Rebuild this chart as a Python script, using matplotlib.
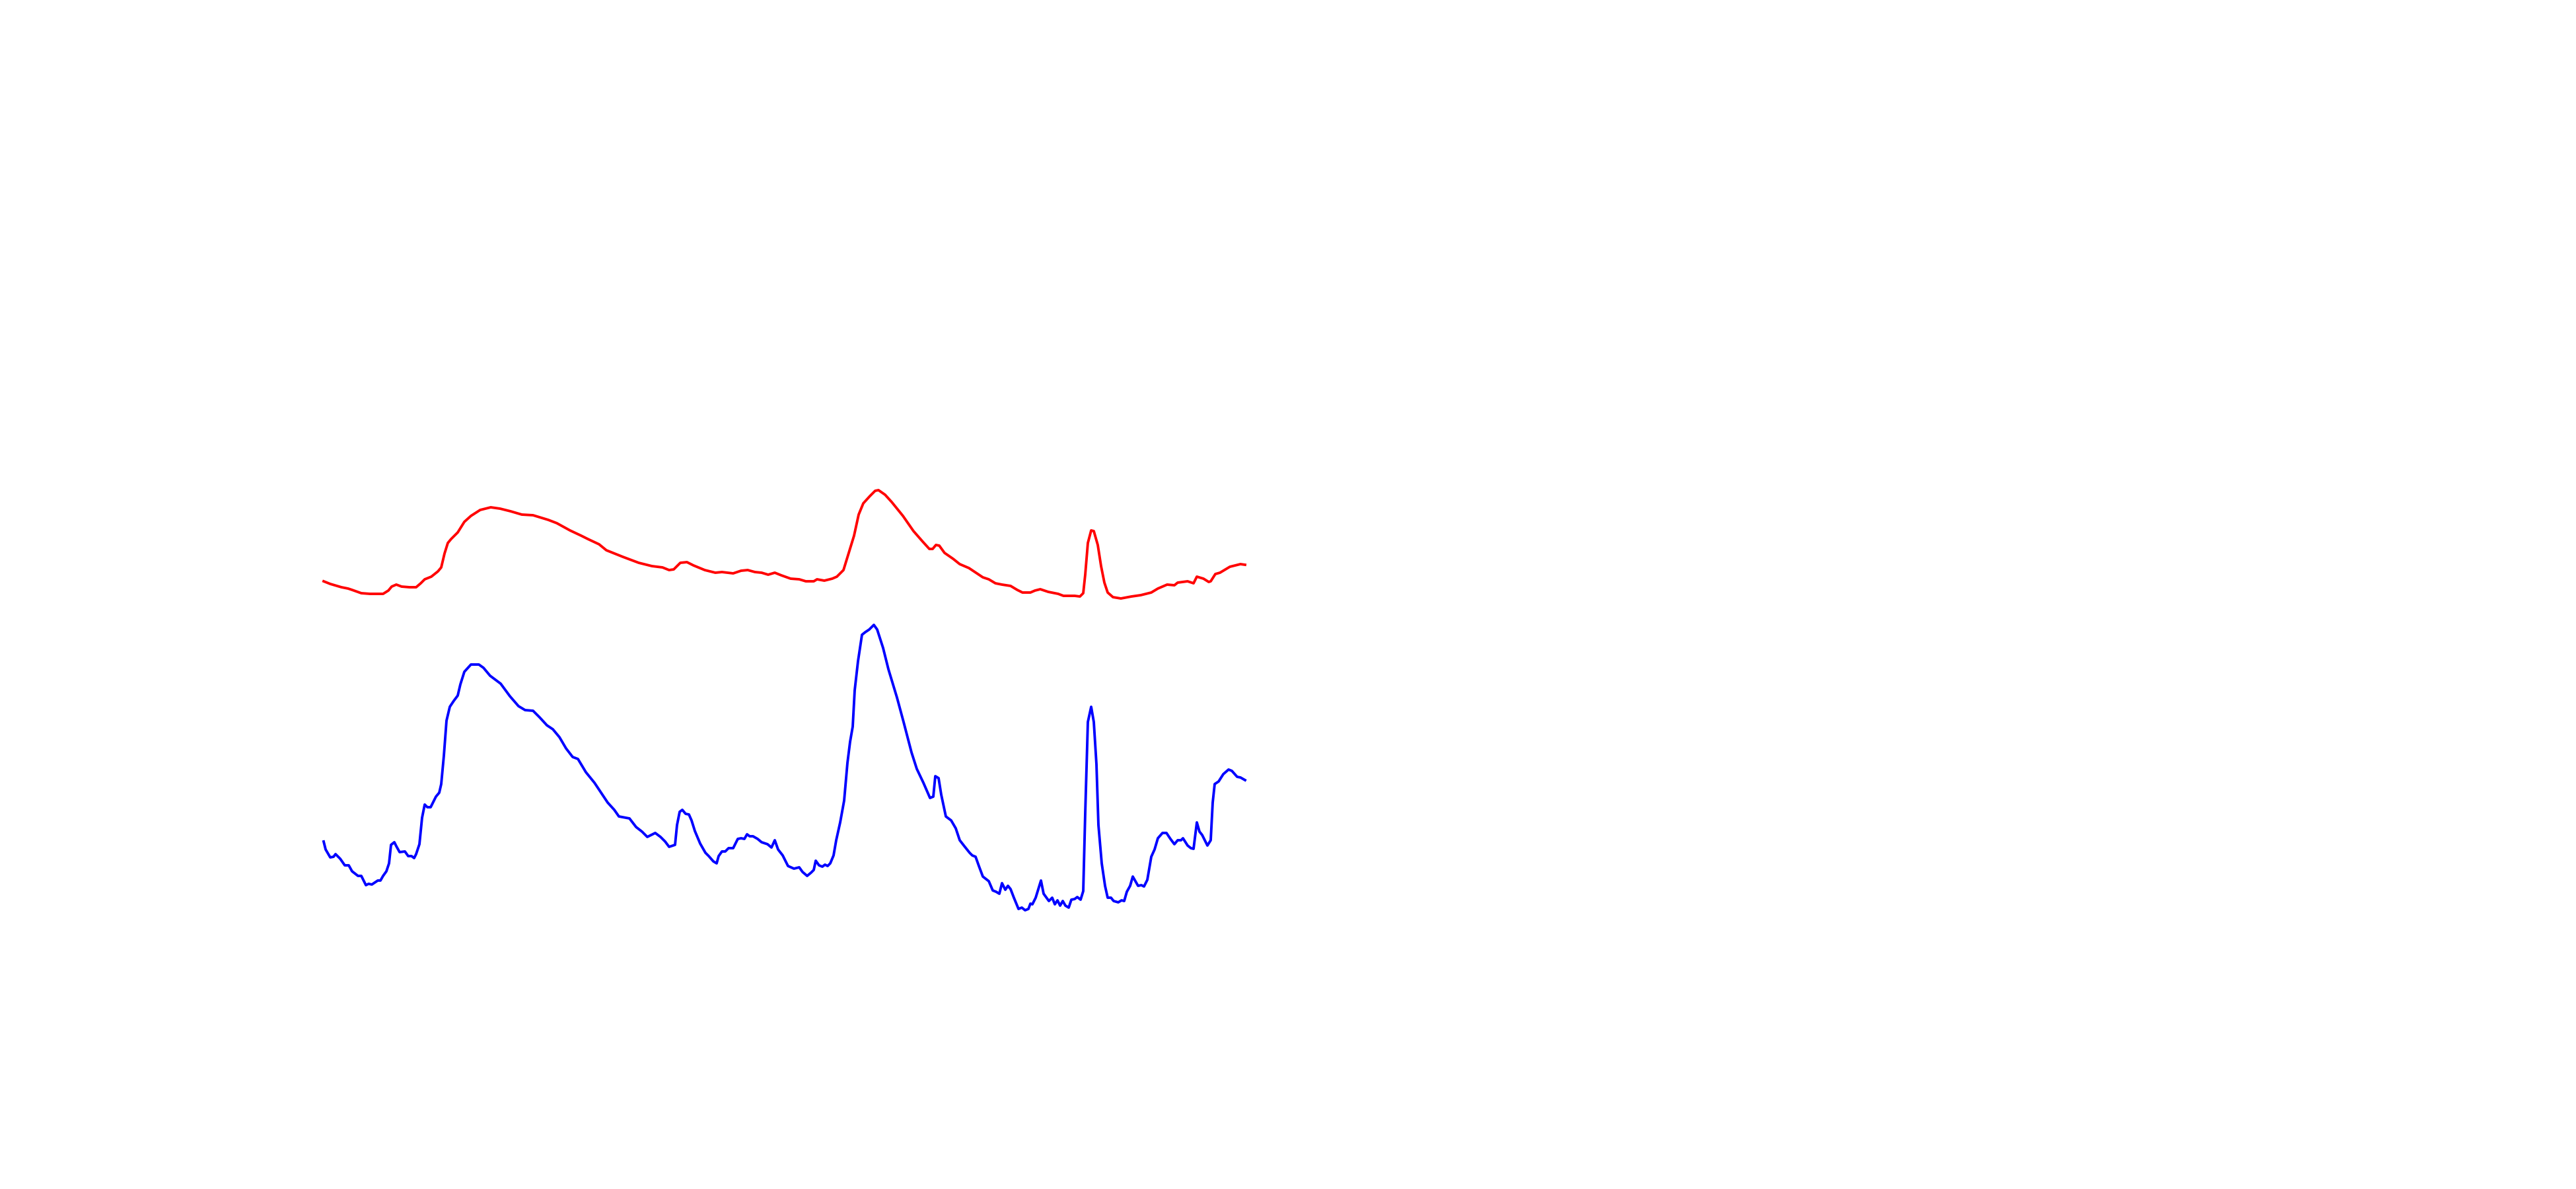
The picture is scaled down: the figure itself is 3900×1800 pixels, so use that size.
import matplotlib
matplotlib.use("Agg")
import matplotlib.pyplot as plt

# red trace (time, value)
t_red = [0.0, 1.0, 2.0, 2.7, 3.7, 4.3, 5.7, 7.0, 9.0, 9.8, 10.3, 11.0, 11.8, 13.0, 14.0,
         14.7, 15.3, 16.3, 17.3, 17.8, 18.3, 18.8, 19.3, 20.3, 21.3, 22.3, 23.7, 25.3,
         26.7, 28.3, 30.0, 31.7, 33.0, 34.0, 35.3, 37.3, 39.0, 40.0, 41.7, 42.8, 44.3,
         45.3, 47.7, 49.7, 51.3, 52.3, 53.0, 54.0, 55.0, 56.0, 57.7, 59.3, 60.3, 62.0,
         63.2, 64.2, 65.3, 66.3, 67.3, 68.3, 69.3, 70.7, 72.0, 73.0, 74.2, 74.7, 75.8,
         77.0, 77.7, 78.7, 79.8, 80.3, 81.0, 81.7, 82.7, 83.5, 84.0, 85.0, 86.0, 87.7,
         89.3, 90.7, 91.7, 92.2, 92.7, 93.2, 94.0, 95.3, 96.3, 97.7, 98.3, 99.8, 100.7,
         101.7, 102.7, 104.0, 105.0, 105.8, 107.0, 107.7, 108.5, 109.7, 111.2, 112.0,
         113.7, 114.5, 115.0, 115.3, 115.7, 116.2, 116.6, 117.2, 117.7, 118.2, 118.7,
         119.5, 120.7, 122.3, 123.7, 125.3, 126.3, 127.7, 128.8, 129.3, 130.8, 131.7,
         132.2, 133.2, 134.0, 134.3, 135.0, 135.7, 137.2, 138.8, 139.5]
v_red = [92.0, 91.6, 91.3, 91.1, 90.9, 90.7, 90.2, 90.1, 90.1, 90.6, 91.2, 91.5, 91.2, 91.1, 91.1,
         91.7, 92.3, 92.7, 93.5, 94.1, 96.2, 97.8, 98.4, 99.4, 101.0, 101.9, 102.8, 103.2,
         103.0, 102.6, 102.1, 102.0, 101.6, 101.3, 100.8, 99.7, 98.9, 98.4, 97.6, 96.7, 96.1,
         95.7, 94.8, 94.3, 94.1, 93.7, 93.8, 94.8, 94.9, 94.4, 93.7, 93.3, 93.4, 93.2,
         93.6, 93.7, 93.4, 93.3, 93.0, 93.3, 92.9, 92.4, 92.3, 92.0, 92.0, 92.3, 92.1,
         92.4, 92.7, 93.7, 97.3, 98.9, 102.1, 103.8, 104.9, 105.7, 105.8, 105.1, 104.0, 101.9,
         99.6, 98.0, 96.9, 96.9, 97.5, 97.4, 96.3, 95.4, 94.6, 94.0, 93.6, 92.6, 92.3,
         91.7, 91.5, 91.3, 90.7, 90.3, 90.3, 90.6, 90.8, 90.4, 90.1, 89.8,
         89.8, 89.7, 90.2, 93.0, 97.8, 99.7, 99.6, 97.5, 94.3, 91.8, 90.3,
         89.6, 89.4, 89.7, 89.9, 90.3, 90.9, 91.5, 91.4, 91.8, 92.0, 91.7,
         92.7, 92.4, 91.9, 92.0, 93.1, 93.3, 94.2, 94.6, 94.5]

# blue trace (time, value)
t_blue = [0.0, 0.3, 1.0, 1.5, 1.8, 2.5, 3.2, 3.8, 4.3, 5.2, 5.7, 6.4, 6.8, 7.3, 8.2, 8.6, 9.0,
          9.5, 9.9, 10.2, 10.7, 11.0, 11.5, 12.3, 12.8, 13.3, 13.7, 14.0, 14.5, 14.9, 15.3,
          15.7, 16.2, 17.0, 17.5, 17.8, 18.2, 18.6, 19.1, 19.7, 20.3, 20.7, 21.3, 22.3, 23.5,
          24.2, 25.2, 26.8, 28.2, 29.5, 30.5, 31.7, 32.7, 33.8, 34.7, 35.7, 36.7, 37.7, 38.5,
          39.7, 41.0, 42.0, 43.0, 44.0, 44.7, 46.3, 47.3, 48.2, 49.0, 49.8, 50.2, 51.0, 51.7,
          52.3, 53.2, 53.5, 53.9, 54.3, 54.8, 55.3, 55.7, 56.2, 57.0, 57.8, 58.3, 59.0, 59.5,
          59.8, 60.3, 60.8, 61.3, 62.0, 62.7, 63.2, 63.7, 64.1, 64.5, 65.0, 65.7, 66.3, 67.2,
          67.8, 68.3, 68.8, 69.5, 70.3, 71.2, 72.0, 72.5, 73.2, 73.8, 74.2, 74.5, 75.0, 75.5,
          75.9, 76.3, 76.7, 77.2, 77.6, 78.2, 78.8, 79.3, 79.7, 80.1, 80.4, 80.9, 81.5, 82.0,
          82.6, 83.3, 83.8, 84.7, 85.5, 86.8, 87.8, 89.0, 89.8, 90.8, 91.8, 92.3, 92.6, 93.1,
          93.5, 94.2, 95.0, 95.7, 96.3, 97.0, 97.8, 98.2, 98.7, 99.2, 99.8, 100.7, 101.3,
          101.8, 102.3, 102.7, 103.2, 103.6, 104.0, 104.5, 105.2, 105.7, 106.2, 106.7, 107.0,
          107.3, 107.8, 108.6, 109.0, 109.8, 110.3, 110.7, 111.1, 111.5, 111.9, 112.3, 112.8,
          113.2, 113.7, 114.1, 114.6, 115.0, 115.3, 115.7, 116.2, 116.6, 117.0, 117.3, 117.8,
          118.3, 118.7, 119.2, 119.6, 120.3, 120.8, 121.2, 121.6, 122.1, 122.5, 123.3, 123.8,
          124.2, 124.7, 125.3, 125.8, 126.3, 127.0, 127.6, 128.2, 128.8, 129.3, 129.8, 130.1,
          130.8, 131.3, 131.7, 132.2, 132.6, 133.0, 133.8, 134.3, 134.6, 134.9, 135.5, 136.2,
          137.0, 137.5, 138.3, 138.8, 139.5]
v_blue = [52.6, 51.4, 50.2, 50.3, 50.7, 50.0, 49.0, 49.0, 48.1, 47.4, 47.4, 46.0, 46.2, 46.1, 46.7, 46.7, 47.4,
          48.1, 49.3, 52.1, 52.5, 51.9, 51.0, 51.1, 50.4, 50.4, 50.1, 50.7, 52.2, 56.2, 58.2,
          57.8, 57.8, 59.4, 60.0, 61.3, 65.6, 70.9, 73.0, 73.9, 74.7, 76.4, 78.3, 79.4, 79.4,
          78.9, 77.7, 76.5, 74.6, 73.1, 72.5, 72.4, 71.4, 70.2, 69.6, 68.4, 66.7, 65.4, 65.1,
          63.1, 61.5, 60.0, 58.5, 57.4, 56.4, 56.1, 54.8, 54.1, 53.3, 53.7, 53.9, 53.3, 52.6,
          51.8, 52.1, 55.1, 57.1, 57.4, 56.8, 56.7, 55.8, 54.2, 52.3, 50.9, 50.4, 49.6, 49.3,
          50.4, 51.1, 51.1, 51.6, 51.6, 53.0, 53.1, 53.0, 53.7, 53.4, 53.4, 53.0, 52.5, 52.2,
          51.7, 52.8, 51.4, 50.5, 48.9, 48.5, 48.7, 48.0, 47.4, 47.9, 48.3, 49.7, 49.0, 48.8,
          49.1, 48.9, 49.3, 50.5, 52.8, 55.5, 58.8, 64.5, 67.7, 70.0, 75.5, 79.9, 83.9, 84.3,
          84.7, 85.4, 84.7, 81.9, 78.7, 74.4, 70.7, 66.1, 63.6, 61.5, 59.2, 59.4, 62.5, 62.2,
          59.7, 56.4, 55.8, 54.6, 52.8, 51.9, 50.9, 50.5, 50.3, 48.9, 47.3, 46.6, 45.2,
          45.0, 44.7, 46.3, 45.3, 45.9, 45.4, 44.1, 42.4, 42.6, 42.2, 42.4, 43.2,
          43.1, 44.1, 46.7, 44.7, 43.6, 44.1, 43.1, 43.7, 42.9, 43.6, 42.9, 42.6,
          43.8, 43.9, 44.2, 43.8, 45.1, 56.9, 70.7, 73.0, 70.7, 64.3, 55.1, 49.3,
          45.9, 44.1, 44.1, 43.6, 43.4, 43.7, 43.6, 45.0, 45.9, 47.3, 45.9, 46.0,
          45.8, 46.8, 50.3, 51.4, 53.1, 53.9, 53.9, 53.0, 52.2, 52.8, 52.8, 53.1,
          52.0, 51.6, 51.5, 55.5, 54.1, 53.6, 52.0, 52.8, 58.5, 61.3, 61.7, 62.8,
          63.5, 63.3, 62.4, 62.3, 61.9]

fig = plt.figure(figsize=(39, 18), dpi=100)
ax = fig.add_axes([0, 0, 1, 1])

ax.plot(t_red, v_red, color='#ff0000', lw=2.8, solid_joinstyle='round')
ax.plot(t_blue, v_blue, color='#0000ff', lw=2.8, solid_joinstyle='round')

ax.set_xlim(-49, 341)
ax.set_ylim(0, 180)
ax.axis('off')

fig.savefig('out.png', dpi=100, facecolor='white')
